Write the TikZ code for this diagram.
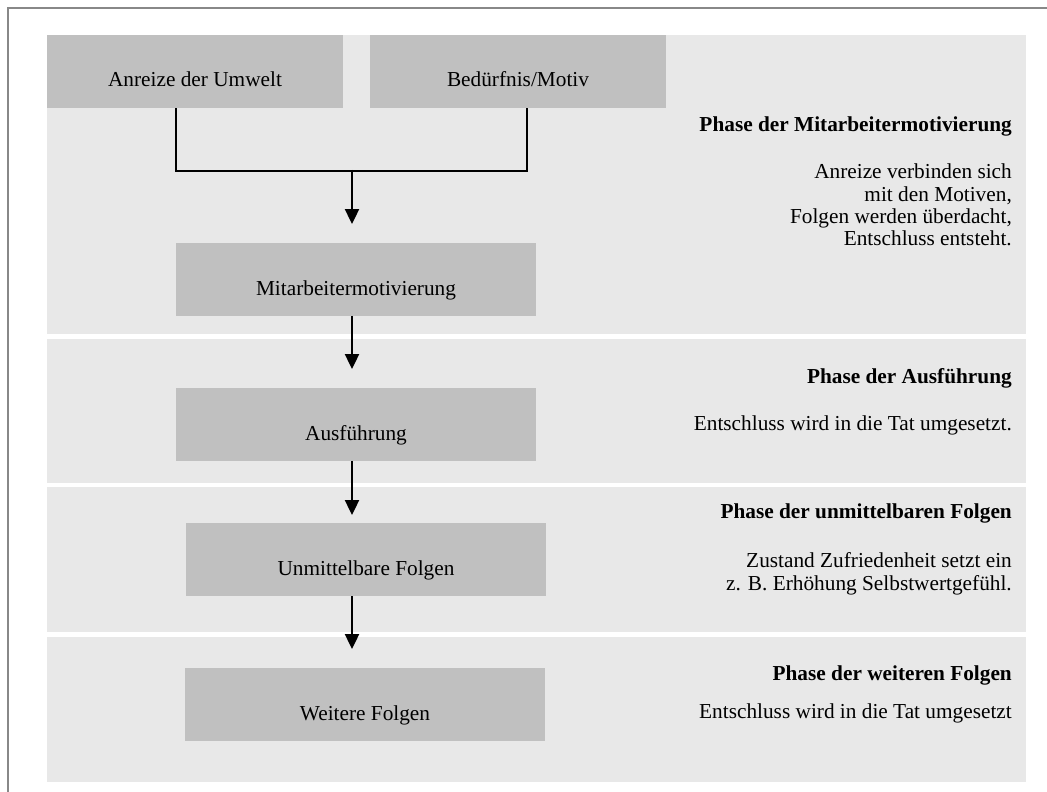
\documentclass[tikz,border=0pt]{standalone}
\usepackage{fontspec}
\setmainfont{Liberation Serif}
\usetikzlibrary{arrows.meta}
\definecolor{bandgray}{RGB}{232,232,232}
\definecolor{boxgray}{RGB}{192,192,192}
\definecolor{framegray}{RGB}{136,136,136}
\tikzset{
  stagebox/.style={fill=boxgray, draw=none, inner sep=0pt, minimum width=296pt, minimum height=73pt},
  widebox/.style={stagebox, minimum width=360pt},
  boxtext/.style={anchor=base, inner sep=0pt},
  phasehead/.style={anchor=base east, inner sep=0pt, font=\fontsize{21.3}{22.4}\selectfont\bfseries},
  phasetext/.style={anchor=base east, inner sep=0pt, align=right},
  conn/.style={line width=2.4pt, black},
  flow/.style={conn, -{Triangle[width=14pt,length=15pt]}}
}
\begin{document}
\begin{tikzpicture}[x=1pt, y=-1pt, font=\fontsize{21.3}{22.3}\selectfont]
\useasboundingbox (0,0) rectangle (1047,792);
% outer frame (top and left edges)
\draw[framegray, line width=1.8pt] (8.3,792) -- (8.3,7.7) -- (1047,7.7);

% phase bands
\fill[bandgray] (47,35) rectangle (1026,333.5);
\fill[bandgray] (47,339) rectangle (1026,483.3);
\fill[bandgray] (47,486.7) rectangle (1026,631.7);
\fill[bandgray] (47,636.7) rectangle (1026,781.7);

% stage boxes
\node[stagebox] (anr) at (195,71.5) {};
\node[boxtext] (anrT) at (195,87) {Anreize der Umwelt};
\node[stagebox] (mot) at (518,71.5) {};
\node[boxtext] (motT) at (518,87) {Bedürfnis/Motiv};
\node[widebox] (mma) at (356,279.2) {};
\node[boxtext] (mmaT) at (356,295) {Mitarbeitermotivierung};
\node[widebox] (aus) at (356,424.2) {};
\node[boxtext] (ausT) at (356,440.5) {Ausführung};
\node[widebox] (unm) at (366,559.4) {};
\node[boxtext] (unmT) at (366,575) {Unmittelbare Folgen};
\node[widebox] (wei) at (365,704.4) {};
\node[boxtext] (weiT) at (365,720) {Weitere Folgen};

% connectors
\coordinate (axis) at (352,0);
\coordinate (anrJ) at (176,171);
\coordinate (motJ) at (527,171);
\coordinate (join) at (352,171);
\coordinate (tipA) at (352,224);
\coordinate (tipB) at (352,369);
\coordinate (tipC) at (352,515);
\coordinate (tipD) at (352,649);
\draw[conn] (anr.south -| anrJ) -- (anrJ) -- (motJ) -- (mot.south -| motJ);
\draw[flow] ([yshift=1.2pt]join) -- (tipA);
\draw[flow] (mma.south -| axis) -- (tipB);
\draw[flow] (aus.south -| axis) -- (tipC);
\draw[flow] (unm.south -| axis) -- (tipD);

% phase descriptions (multi-line blocks are placed by their last baseline)
\node[phasehead] (h1) at (1012,131.7) {Phase der Mitarbeitermotivierung};
\node[phasetext] (t1) at (1012,245.7) {Anreize verbinden sich\\mit den Motiven,\\Folgen werden überdacht,\\Entschluss entsteht.};
\node[phasehead] (h2) at (1012,383.3) {Phase der Ausführung};
\node[phasetext] (t2) at (1012,430) {Entschluss wird in die Tat umgesetzt.};
\node[phasehead] (h3) at (1012,518.3) {Phase der unmittelbaren Folgen};
\node[phasetext] (t3) at (1012,590) {Zustand Zufriedenheit setzt ein\\z. B. Erhöhung Selbstwertgefühl.};
\node[phasehead] (h4) at (1012,680) {Phase der weiteren Folgen};
\node[phasetext] (t4) at (1012,718.3) {Entschluss wird in die Tat umgesetzt};
\end{tikzpicture}
\end{document}
